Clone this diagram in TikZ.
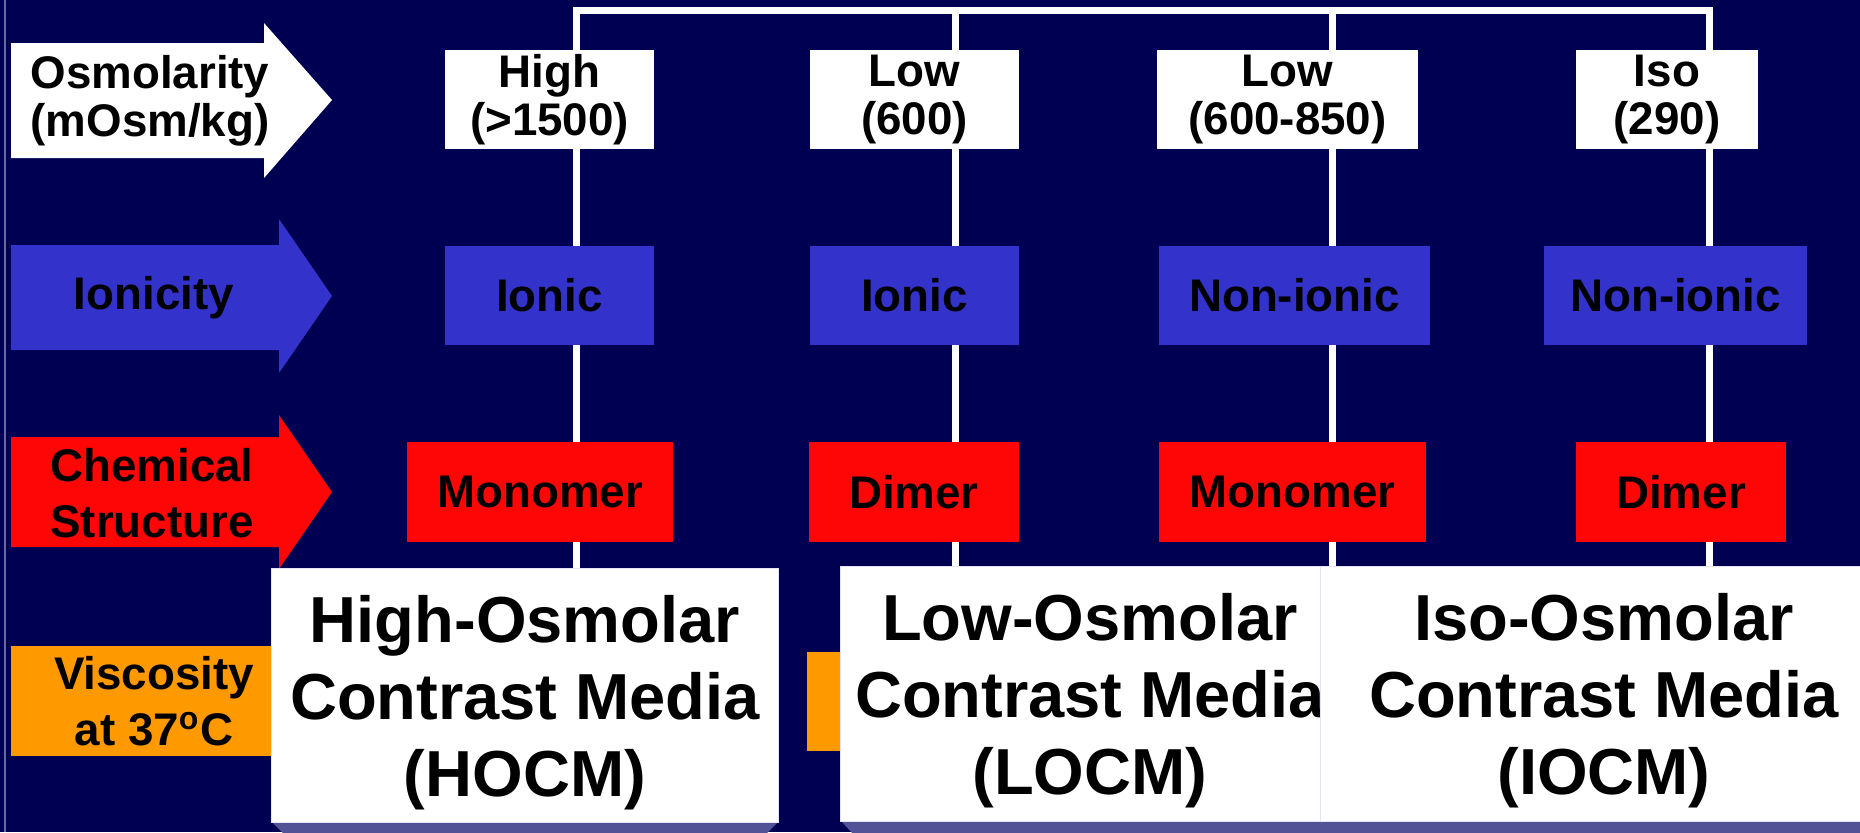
\documentclass[tikz,border=0pt]{standalone}
\usepackage{fontspec}
\setmainfont{Liberation Sans}
\usetikzlibrary{backgrounds}

\definecolor{slidenavy}{RGB}{0,0,82}
\definecolor{ionblue}{RGB}{51,51,204}
\definecolor{chemred}{RGB}{255,6,6}
\definecolor{viscorange}{RGB}{255,153,0}
\definecolor{shadepurple}{RGB}{82,82,150}
\definecolor{rimlavender}{RGB}{228,228,246}
\definecolor{edgegrey}{RGB}{105,105,160}

\newcommand{\smalltxt}{\fontsize{13}{13.7}\selectfont\bfseries}
\newcommand{\widetxt}{\fontsize{13}{15.9}\selectfont\bfseries}
\newcommand{\bigtxt}{\fontsize{18.5}{21.9}\selectfont\bfseries}
\newcommand{\mediastrut}{\rule{0pt}{0.61cm}}

\tikzset{
  valbox/.style={fill=white, text=black, inner sep=0pt, minimum height=0.99cm, align=center, font=\smalltxt},
  ionbox/.style={fill=ionblue, text=black, inner sep=0pt, minimum height=0.99cm, font=\smalltxt},
  chembox/.style={fill=chemred, text=black, inner sep=0pt, minimum height=1cm, font=\smalltxt},
  mediabox/.style={fill=white, draw=rimlavender, line width=0.01cm, inner sep=0pt, minimum height=2.54cm, align=center, font=\bigtxt},
  rowlabel/.style={text=black, inner sep=0pt, align=center},
  linkline/.style={draw=white, line width=0.07cm},
}

\begin{document}
\begin{tikzpicture}[x=0.01cm, y=-0.01cm]
    \useasboundingbox (0,0) rectangle (1860,832);
    % Slide background
    \begin{scope}[on background layer]
      \fill[slidenavy] (0,0) rectangle (1860,832);
    \end{scope}
    \draw[edgegrey, line width=0.02cm] (5,0) -- (5,832);

    % Top ends of the four columns
    \coordinate (c1) at (576,10);
    \coordinate (c2) at (955,10);
    \coordinate (c3) at (1332,10);
    \coordinate (c4) at (1709,10);

    % Row arrows
    \fill[white] (11,43) -- (264,43) -- (264,23) -- (332,100) -- (264,178) -- (264,158) -- (11,158) -- cycle;
    \fill[ionblue] (11,245) -- (279,245) -- (279,219) -- (332,296) -- (279,373) -- (279,350) -- (11,350) -- cycle;
    \fill[chemred] (11,437) -- (279,437) -- (279,415) -- (332,492) -- (279,569) -- (279,547) -- (11,547) -- cycle;
    \node[rowlabel, font=\smalltxt] (osmo) at (150,101) {Osmolarity\\(mOsm/kg)};
    \node[rowlabel, font=\smalltxt] (ionicity) at (154,298) {Ionicity};
    \node[rowlabel, font=\widetxt] (chem) at (152,493) {Chemical\\Structure};
    \node[rowlabel, font=\widetxt, fill=viscorange, minimum width=2.86cm, minimum height=1.1cm] (visc) at (154,701) {Viscosity\\at 37\textsuperscript{o}C};

    % Osmolarity row
    \node[valbox, minimum width=2.09cm] (high) at (549.5,99.5) {High\\(>1500)};
    \node[valbox, minimum width=2.09cm] (lowa) at (914.5,99.5) {Low\\(600)};
    \node[valbox, minimum width=2.61cm] (lowb) at (1287.5,99.5) {Low\\(600-850)};
    \node[valbox, minimum width=1.82cm] (iso) at (1667,99.5) {Iso\\(290)};

    % Ionicity row
    \node[ionbox, minimum width=2.09cm] (iona) at (549.5,295.5) {Ionic};
    \node[ionbox, minimum width=2.09cm] (ionb) at (914.5,295.5) {Ionic};
    \node[ionbox, minimum width=2.71cm] (nona) at (1294.5,295.5) {Non-ionic};
    \node[ionbox, minimum width=2.63cm] (nonb) at (1675.5,295.5) {Non-ionic};

    % Chemical structure row
    \node[chembox, minimum width=2.66cm] (monoa) at (540,492) {Monomer};
    \node[chembox, minimum width=2.10cm] (dima) at (914,492) {Dimer};
    \node[chembox, minimum width=2.67cm] (monob) at (1292.5,492) {Monomer};
    \node[chembox, minimum width=2.10cm] (dimb) at (1681,492) {Dimer};

    % Contrast media classes
    \fill[viscorange] (807,652) rectangle (860,751);
    \fill[shadepurple] (272,822) -- (778,822) -- (764,836) -- (286,836) -- cycle;
    \fill[shadepurple] (841,821) -- (1900,821) -- (1900,836) -- (855,836) -- cycle;
    \node[mediabox, minimum width=5.06cm] (hocm) at (525,695.5) {\mediastrut High-Osmolar\\Contrast Media\\(HOCM)};
    \node[mediabox, minimum width=4.98cm] (locm) at (1090,694) {\mediastrut Low-Osmolar\\Contrast Media\\(LOCM)};
    \node[mediabox, minimum width=5.66cm] (iocm) at (1604,694) {\mediastrut Iso-Osmolar\\Contrast Media\\(IOCM)};

    % Column lines
    \begin{scope}[on background layer]
      \draw[linkline] (c1 |- hocm.north) -- (c1) -- (c4) -- (c4 |- iocm.north);
      \draw[linkline] (c2) -- (c2 |- locm.north);
      \draw[linkline] (c3) -- (c3 |- iocm.north);
    \end{scope}
\end{tikzpicture}
\end{document}
